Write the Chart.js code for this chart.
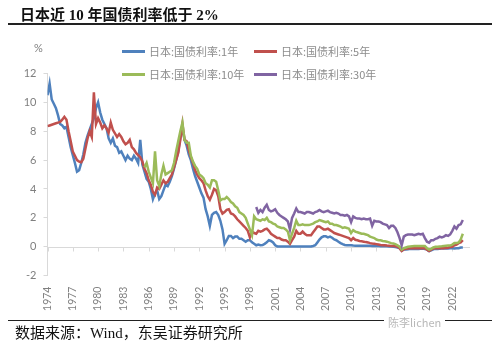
<!DOCTYPE html>
<html>
<head>
<meta charset="utf-8">
<script src="https://cdn.jsdelivr.net/npm/chart.js@4"></script>
<style>
body { margin: 0; background: #fff; }
#wrap { position: relative; width: 500px; height: 344px; overflow: hidden; }
#chart { position: absolute; left: 0; top: 0; }
.title { position: absolute; left: 20px; top: 3px; font: bold 15px "Liberation Serif", "Noto Sans CJK SC"; color: #111; white-space: nowrap; }
.rule { position: absolute; left: 8px; width: 484px; height: 1.5px; background: #222; }
.unit { position: absolute; left: 34px; top: 41px; font: 11px Lato, sans-serif; color: #7f7f7f; }
.legend { position: absolute; font: 11px "Noto Sans CJK SC"; color: #8c8c8c; white-space: nowrap; }
.legend span.line { position: absolute; left: 0; width: 23px; height: 2.5px; }
.legend span.text { position: absolute; left: 27px; line-height: 14px; }
.source { position: absolute; left: 15px; top: 321px; font: 15px "Liberation Serif", "Noto Sans CJK SC"; color: #111; white-space: nowrap; }
.mark { position: absolute; left: 384px; top: 314px; padding: 0 4px; background: #fff; font: 11px "Noto Sans CJK SC"; color: #b8b8b8; }
</style>
</head>
<body>
<div id="wrap">
  <canvas id="chart" width="500" height="344"></canvas>
  <div class="title">日本近 10 年国债利率低于 2%</div>
  <div class="rule" style="top:23px"></div>
  <div class="unit">%</div>
  <div id="legend"></div>
  <div class="rule" style="top:319.5px"></div>
  <div class="source">数据来源：Wind，东吴证券研究所</div>
  <div class="mark">陈李lichen</div>
</div>
<script>
// quarterly yields, % (first value of each row = Q1 of that year)
var start1y = 1974;
var yield1y = [
  10.5, 11.3, 10.2, 9.9,
  9.6, 9.1, 8.5, 8.4,
  8.2, 8.3, 7.6, 6.9,
  6.35, 5.8, 5.2, 5.3,
  5.8, 6.4, 7.2, 7.7,
  8.1, 8.5, 8.9, 9.6,
  10.0, 9.3, 8.8, 8.5,
  8.2, 7.5, 7.2, 7.5,
  7.0, 6.9, 6.5, 6.6,
  6.3, 6.0, 6.3, 6.1,
  6.0, 6.3, 6.1, 5.8,
  7.4, 5.7, 5.2, 4.7,
  4.5, 4.0, 3.3, 3.7,
  3.9, 3.3, 3.5, 3.9,
  4.3, 4.2, 4.5, 4.9,
  5.4, 6.0, 6.6, 7.6,
  8.2, 7.4, 7.0, 6.4,
  6.0, 5.4, 4.9, 4.5,
  4.1, 3.7, 3.4, 2.6,
  2.1, 1.45, 2.2, 2.35,
  2.4, 2.2, 1.8, 1.2,
  0.2, 0.45, 0.75, 0.75,
  0.6, 0.7, 0.7, 0.55,
  0.55, 0.45, 0.35, 0.45,
  0.45, 0.3, 0.2, 0.1,
  0.15, 0.1, 0.12, 0.2,
  0.3, 0.45, 0.4, 0.3,
  0.1, 0.02, 0.01, 0.01,
  0.02, 0.02, 0.01, 0.01,
  0.01, 0.02, 0.02, 0.02,
  0.02, 0.02, 0.02, 0.02,
  0.02, 0.02, 0.05, 0.1,
  0.3, 0.5, 0.65, 0.72,
  0.72, 0.65, 0.7, 0.62,
  0.5, 0.45, 0.35, 0.25,
  0.18, 0.12, 0.1, 0.1,
  0.1, 0.08, 0.07, 0.07,
  0.07, 0.07, 0.06, 0.06,
  0.06, 0.06, 0.05, 0.05,
  0.05, 0.05, 0.04, 0.04,
  0.03, 0.03, 0.02, 0.01,
  0.0, -0.02, -0.05, -0.1,
  -0.27, -0.2, -0.2, -0.18,
  -0.15, -0.15, -0.15, -0.15,
  -0.15, -0.14, -0.13, -0.15,
  -0.2, -0.3, -0.25, -0.18,
  -0.15, -0.15, -0.14, -0.13,
  -0.13, -0.12, -0.12, -0.11,
  -0.1, -0.12, -0.1, -0.1,
  -0.05, -0.05
];

var start5y = 1974;
var yield5y = [
  8.35, 8.4, 8.45, 8.5,
  8.55, 8.6, 8.65, 8.8,
  9.0, 8.8, 8.0, 7.3,
  6.6, 6.3, 6.0, 5.9,
  5.85, 6.1, 6.8, 7.5,
  8.0, 7.6, 10.7, 8.5,
  8.9, 8.6, 8.2, 8.4,
  8.2, 7.9, 8.6, 8.1,
  7.85, 7.6, 7.8, 7.6,
  7.3, 7.1, 7.2, 7.4,
  6.9, 6.75, 6.5, 6.35,
  6.2, 5.9, 5.4, 5.1,
  4.6, 4.3, 3.8, 3.6,
  4.1, 4.0, 4.3, 4.6,
  4.4, 4.5, 4.75, 5.0,
  5.5, 6.0, 6.5, 7.4,
  8.5, 7.4, 7.3, 6.7,
  6.2, 5.8, 5.3, 5.0,
  4.75, 4.6, 4.4, 3.9,
  3.5, 3.25, 3.6, 4.0,
  3.9, 3.5, 2.6, 2.3,
  2.4, 2.55, 2.6, 2.3,
  2.25, 2.1, 1.9, 1.75,
  1.6, 1.45, 1.3, 1.1,
  0.65, 1.05, 0.95, 0.9,
  1.1, 1.05, 1.1, 1.2,
  1.25, 1.1, 0.9, 0.8,
  0.7, 0.6, 0.6, 0.5,
  0.45, 0.45, 0.35, 0.2,
  0.45, 0.7, 1.1, 0.9,
  0.9, 1.05, 0.9, 0.8,
  0.8, 0.8, 1.0, 1.2,
  1.4, 1.4, 1.3, 1.2,
  1.2, 1.25, 1.15, 1.05,
  0.95, 0.9, 0.85, 0.8,
  0.75, 0.7, 0.65, 0.6,
  0.45, 0.6, 0.48, 0.45,
  0.4, 0.38, 0.35, 0.32,
  0.3, 0.25, 0.22, 0.2,
  0.18, 0.15, 0.12, 0.1,
  0.1, 0.08, 0.07, 0.05,
  0.05, 0.03, 0.0, -0.1,
  -0.3, -0.18, -0.15, -0.12,
  -0.1, -0.1, -0.1, -0.1,
  -0.1, -0.1, -0.1, -0.1,
  -0.2, -0.3, -0.2, -0.12,
  -0.1, -0.1, -0.1, -0.1,
  -0.1, -0.08, -0.07, -0.02,
  0.0, 0.1, 0.15, 0.25,
  0.3, 0.45
];

var start10y = 1985.5;
var yield10y = [
  5.5, 5.8,
  5.2, 4.8, 4.4, 6.6,
  4.6, 4.2, 5.0, 5.6,
  5.0, 5.1, 5.2, 5.3,
  5.8, 6.6, 7.3, 8.0,
  8.6, 7.4, 7.2, 7.2,
  6.3, 5.9, 5.6, 5.4,
  5.0, 4.9, 4.75, 4.4,
  4.3, 4.1, 4.6, 4.6,
  4.5, 3.9, 3.2, 3.3,
  3.3, 3.45, 3.3, 3.1,
  3.0, 2.8, 2.7, 2.4,
  2.3, 2.2, 2.0, 1.6,
  1.2, 0.8, 2.1, 1.9,
  1.85, 1.8, 1.9, 1.85,
  2.0, 1.75, 1.7, 1.6,
  1.55, 1.4, 1.35, 1.3,
  1.3, 1.2, 1.05, 0.45,
  0.9, 1.3, 1.8, 1.5,
  1.5, 1.55, 1.5, 1.5,
  1.5, 1.55, 1.6, 1.7,
  1.75, 1.85, 1.8, 1.75,
  1.7, 1.75, 1.6, 1.6,
  1.5, 1.5, 1.45, 1.4,
  1.3, 1.35, 1.3, 1.25,
  0.95, 1.15, 1.05, 1.0,
  0.95, 0.9, 0.9, 0.85,
  0.8, 0.7, 0.65, 0.6,
  0.5, 0.45, 0.45, 0.4,
  0.38, 0.35, 0.3, 0.25,
  0.22, 0.18, 0.1, 0.0,
  -0.2, -0.1, -0.05, 0.0,
  0.02, 0.04, 0.05, 0.05,
  0.05, 0.05, 0.05, 0.05,
  -0.1, -0.2, -0.15, -0.05,
  0.0, 0.0, 0.02, 0.03,
  0.05, 0.07, 0.08, 0.08,
  0.15, 0.25, 0.25, 0.3,
  0.5, 0.9
];

var start30y = 1998.75;
var yield30y = [
  2.75,
  2.35, 2.55, 2.4, 2.7,
  2.9, 2.55, 2.45, 2.5,
  2.6, 2.35, 2.2, 2.1,
  2.0, 1.9, 1.75, 1.2,
  2.0, 2.3, 2.65, 2.4,
  2.4, 2.35, 2.3, 2.4,
  2.4, 2.35, 2.3, 2.4,
  2.45, 2.55, 2.45, 2.4,
  2.45, 2.5, 2.4, 2.35,
  2.3, 2.35, 2.3, 2.2,
  2.2, 2.15, 2.2, 2.1,
  1.7, 2.1, 2.0, 1.95,
  1.95, 1.9, 1.95, 1.9,
  1.9, 1.95, 1.45, 1.8,
  1.75, 1.75, 1.7, 1.6,
  1.55, 1.5, 1.3, 1.45,
  1.45, 1.3, 1.0, 0.6,
  0.1, 0.7, 0.8, 0.85,
  0.85, 0.85, 0.8, 0.85,
  0.9, 0.85, 0.9, 0.6,
  0.35, 0.28, 0.45, 0.45,
  0.55, 0.6, 0.7, 0.65,
  0.7, 0.8, 0.75, 0.85,
  1.1, 1.4, 1.25, 1.5,
  1.55, 1.85
];

var seriesNames = ['日本:国债利率:1年', '日本:国债利率:5年', '日本:国债利率:10年', '日本:国债利率:30年'];
var seriesColors = ['#4f81bd', '#c0504d', '#9bbb59', '#8064a2'];
var tickYears = [1974, 1977, 1980, 1983, 1986, 1989, 1992, 1995, 1998, 2001, 2004, 2007, 2010, 2013, 2016, 2019, 2022];

function toPoints(start, values) {
  return values.map(function (v, i) {
    return { x: start + i / 4, y: v };
  });
}

var allSeries = [
  toPoints(start1y, yield1y),
  toPoints(start5y, yield5y),
  toPoints(start10y, yield10y),
  toPoints(start30y, yield30y)
];

// zero line with small tick marks, like an axis crossing at 0
var zeroAxis = {
  id: 'zeroAxis',
  beforeDatasetsDraw: function (chart) {
    var ctx = chart.ctx;
    var area = chart.chartArea;
    var x = chart.scales.x;
    var y0 = Math.round(chart.scales.y.getPixelForValue(0)) + 0.5;
    ctx.save();
    ctx.strokeStyle = '#d9d9d9';
    ctx.lineWidth = 1;
    ctx.beginPath();
    ctx.moveTo(area.left, y0);
    ctx.lineTo(area.right, y0);
    x.ticks.forEach(function (t) {
      var px = Math.round(x.getPixelForValue(t.value)) + 0.5;
      ctx.moveTo(px, y0);
      ctx.lineTo(px, y0 + 4);
    });
    ctx.stroke();
    ctx.restore();
  }
};

var ctx = document.getElementById('chart').getContext('2d');
var chart = new Chart(ctx, {
  type: 'line',
  data: {
    datasets: allSeries.map(function (pts, i) {
      return {
        label: seriesNames[i],
        data: pts,
        borderColor: seriesColors[i],
        backgroundColor: seriesColors[i],
        borderWidth: 2.5,
        pointRadius: 0,
        tension: 0,
        fill: false,
        order: 3 - i
      };
    })
  },
  options: {
    responsive: false,
    animation: false,
    devicePixelRatio: 1,
    layout: { padding: { left: 0, top: 73.5, right: 30, bottom: 18.4 } },
    plugins: { legend: { display: false }, tooltip: { enabled: false } },
    scales: {
      x: {
        type: 'linear',
        min: 1974,
        max: 2024.1,
        afterBuildTicks: function (scale) {
          scale.ticks = tickYears.map(function (v) { return { value: v }; });
        },
        afterFit: function (scale) { scale.height = 50; },
        grid: { display: false },
        border: { display: false },
        ticks: {
          autoSkip: false,
          minRotation: 90,
          maxRotation: 90,
          padding: 3,
          color: '#7f7f7f',
          font: { family: 'Lato', size: 10.5 },
          callback: function (v) { return String(v); }
        }
      },
      y: {
        min: -2,
        max: 12,
        afterFit: function (scale) { scale.width = 47.5; },
        grid: { drawOnChartArea: false, drawTicks: true, tickLength: 4, color: '#d9d9d9' },
        border: { display: true, color: '#d9d9d9' },
        ticks: {
          stepSize: 2,
          padding: 7,
          color: '#7f7f7f',
          font: { family: 'Lato', size: 11 }
        }
      }
    }
  },
  plugins: [zeroAxis]
});

// two-column legend laid over the top of the plot
var legendPos = [[122, 44], [254, 44], [122, 67], [254, 67]];
var legendBox = document.getElementById('legend');
chart.data.datasets.forEach(function (ds, i) {
  var item = document.createElement('div');
  item.className = 'legend';
  item.style.left = legendPos[i][0] + 'px';
  item.style.top = legendPos[i][1] + 'px';
  item.innerHTML = '<span class="line" style="top:6px;background:' + ds.borderColor + '"></span>' +
    '<span class="text">' + ds.label + '</span>';
  legendBox.appendChild(item);
});
</script>
</body>
</html>
